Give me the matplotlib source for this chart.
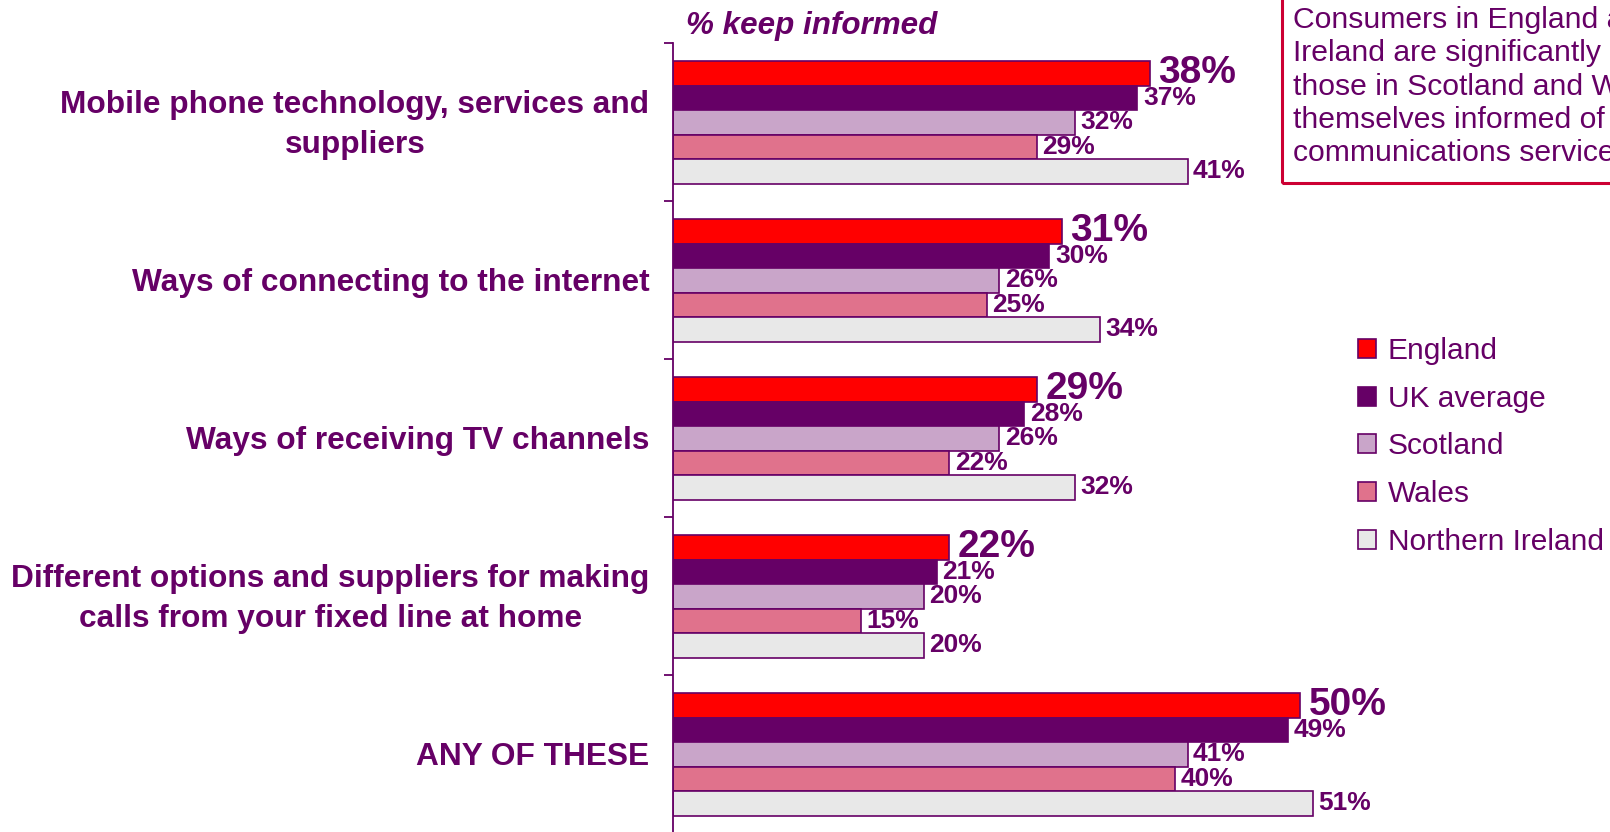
import matplotlib.pyplot as plt
from matplotlib.patches import Rectangle

plt.rcParams['font.family'] = ['Liberation Sans', 'DejaVu Sans']

PURPLE = '#660066'

categories = [
    'Mobile phone technology, services and\nsuppliers',
    'Ways of connecting to the internet',
    'Ways of receiving TV channels',
    'Different options and suppliers for making\ncalls from your fixed line at home',
    'ANY OF THESE',
]
regions = ['England', 'UK average', 'Scotland', 'Wales', 'Northern Ireland']
england = [38, 31, 29, 22, 50]
uk_average = [37, 30, 28, 21, 49]
scotland = [32, 26, 26, 20, 41]
wales = [29, 25, 22, 15, 40]
northern_ireland = [41, 34, 32, 20, 51]

series = [england, uk_average, scotland, wales, northern_ireland]
colors = ['#FF0000', '#660066', '#C9A5C9', '#E0728C', '#E8E8E8']

fig = plt.figure(figsize=(16.1, 8.32), dpi=100)
ax = fig.add_axes([0.418, -0.0016, 0.4677, 0.9495])

bar_h = 0.155
for j, (vals, name, col) in enumerate(zip(series, regions, colors)):
    ys = [i + (j - 2) * bar_h for i in range(len(categories))]
    ax.barh(ys, vals, height=bar_h, color=col, edgecolor=PURPLE,
            linewidth=1.2, label=name)
    for y, v in zip(ys, vals):
        if j == 0:
            # England gets the big headline figure
            ax.annotate(f'{v}%', xy=(v, y), xytext=(6, 0), textcoords='offset points',
                        ha='left', va='center', fontsize=28, fontweight='bold',
                        color=PURPLE)
        else:
            ax.annotate(f'{v}%', xy=(v, y), xytext=(4, 0), textcoords='offset points',
                        ha='left', va='center', fontsize=19, fontweight='bold',
                        color=PURPLE)

for i, cat in enumerate(categories):
    ax.annotate(cat, xy=(0, i), xycoords=('axes fraction', 'data'),
                xytext=(-17, -2), textcoords='offset points',
                ha='right', va='center', multialignment='center',
                fontsize=22.8, fontweight='bold', color=PURPLE, linespacing=1.45)

ax.set_xlim(0, 60)
ax.set_ylim(4.5, -0.5)
ax.set_yticks([i - 0.5 for i in range(len(categories) + 1)])
ax.set_yticklabels([])
ax.set_xticks([])
ax.tick_params(axis='y', direction='out', length=6.5, width=1.3, color=PURPLE)
for side in ['top', 'right', 'bottom']:
    ax.spines[side].set_visible(False)
ax.spines['left'].set_color(PURPLE)
ax.spines['left'].set_linewidth(1.3)

fig.text(686 / 1610, 1 - 34 / 832, '% keep informed', fontsize=22.6,
         fontweight='bold', fontstyle='italic', color=PURPLE, va='baseline')

leg = ax.legend(loc='upper left', bbox_to_anchor=(1358 / 1610, 1 - 337 / 832),
                bbox_transform=fig.transFigure, frameon=False, fontsize=21.5,
                handlelength=0.6, handleheight=0.6, handletextpad=0.4,
                labelspacing=0.66, borderaxespad=0, borderpad=0)
for t in leg.get_texts():
    t.set_color(PURPLE)

# note box in the top right corner, running off the page
fig.add_artist(Rectangle((1282 / 1610, 1 - 183 / 832), 0.4, 0.4,
                         transform=fig.transFigure, fill=False,
                         edgecolor='#CC0033', linewidth=2.2))
fig.text(1293 / 1610, 1 - 6 / 832,
         'Consumers in England and Northern\n'
         'Ireland are significantly more likely than\n'
         'those in Scotland and Wales to keep\n'
         'themselves informed of developments in\n'
         'communications services',
         fontsize=21.7, color=PURPLE, va='top', ha='left', linespacing=1.24)

fig.savefig('out.png', dpi=100)
